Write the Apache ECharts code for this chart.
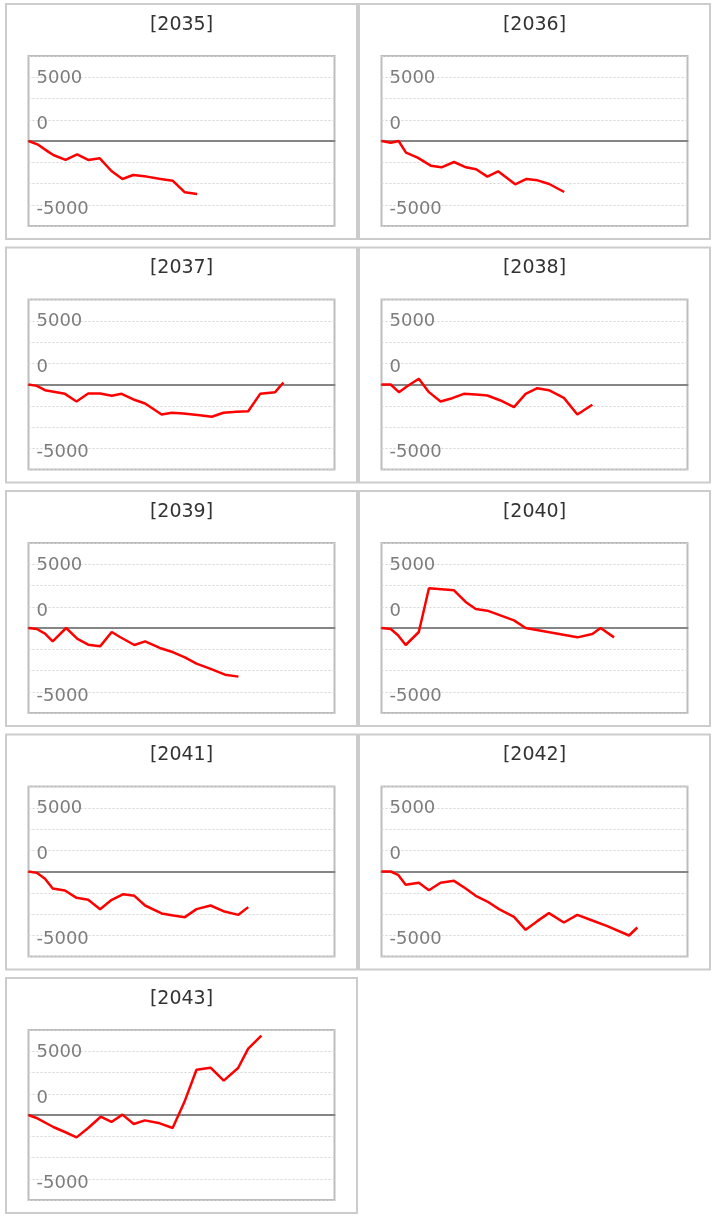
<!DOCTYPE html>
<html>
<head>
<meta charset="utf-8">
<script src="https://cdn.jsdelivr.net/npm/echarts@6/dist/echarts.min.js"></script>
<style>
html,body{margin:0;padding:0;background:#fff;}
#chart{width:714px;height:1218px;}
</style>
</head>
<body>
<div id="chart"></div>
<script>
// Panel titles
const years = ['2035','2036','2037','2038','2039','2040','2041','2042','2043'];

// Tick labels as shown on the y axis
const yTickValues = [7500, 2500, -7500];
const yTickLabels = ['5000', '0', '-5000'];

// Series data: [x position, value]
const s2035 = [[0,0],[2.9,-390],[6.4,-1250],[8.1,-1650],[12.1,-2230],[15.9,-1570],[19.5,-2230],[23.3,-2040],[27.1,-3530],[30.7,-4470],[34.2,-4000],[38.6,-4190],[42.7,-4430],[47.1,-4670],[51.1,-6040],[55.1,-6230]];
const s2036 = [[0,0],[3.0,-200],[5.6,0],[8.0,-1370],[11.8,-1960],[16.1,-2900],[19.6,-3100],[23.7,-2470],[27.6,-3100],[30.9,-3330],[34.6,-4190],[38.1,-3570],[43.7,-5100],[47.4,-4470],[51.0,-4630],[54.8,-5060],[59.7,-6000]];
const s2037 = [[0,0],[2.7,-160],[5.4,-670],[11.9,-1100],[15.7,-2000],[19.5,-1060],[23.4,-1060],[27.2,-1330],[30.4,-1100],[34.3,-1760],[38.1,-2230],[43.5,-3530],[46.8,-3330],[50.6,-3410],[56.0,-3610],[59.9,-3800],[63.7,-3330],[68.0,-3210],[71.8,-3140],[75.7,-1100],[80.6,-900],[83.3,240]];
const s2038 = [[0,0],[3.0,0],[5.7,-900],[8.4,-200],[12.2,670],[15.5,-900],[19.3,-2000],[23.1,-1610],[26.9,-1100],[30.8,-1180],[34.6,-1290],[38.9,-1880],[43.3,-2670],[47.1,-1100],[50.9,-430],[54.7,-670],[59.6,-1570],[64.0,-3530],[68.9,-2390]];
const s2039 = [[0,0],[2.7,-120],[5.4,-670],[7.9,-1570],[12.3,0],[16.0,-1290],[19.5,-1960],[23.4,-2160],[27.2,-470],[29.9,-1060],[34.6,-2000],[38.1,-1570],[42.9,-2350],[47.3,-2860],[51.1,-3450],[54.9,-4190],[59.3,-4780],[64.2,-5490],[68.6,-5720]];
const s2040 = [[0,0],[3.0,-120],[5.4,-860],[7.9,-2000],[12.2,-470],[15.5,4670],[23.7,4430],[27.5,3060],[30.8,2230],[34.6,2040],[43.3,900],[47.1,0],[64.0,-1100],[68.9,-710],[71.6,0],[76.0,-1100]];
const s2041 = [[0,0],[2.7,-160],[5.4,-860],[7.9,-2000],[11.9,-2230],[15.7,-3100],[19.5,-3330],[23.4,-4430],[27.2,-3330],[31.0,-2670],[34.6,-2860],[38.1,-4000],[43.5,-4940],[47.3,-5170],[51.1,-5370],[54.9,-4430],[59.5,-4000],[63.7,-4670],[68.6,-5100],[71.8,-4190]];
const s2042 = [[0,0],[3.0,0],[5.4,-390],[7.9,-1570],[12.2,-1330],[15.5,-2200],[19.3,-1330],[23.7,-1100],[27.5,-2000],[30.8,-2860],[34.6,-3530],[38.4,-4430],[43.3,-5330],[47.1,-6860],[50.9,-5840],[54.7,-4900],[59.6,-6000],[64.0,-5100],[68.9,-5760],[73.8,-6430],[80.9,-7530],[83.6,-6590]];
const s2043 = [[0,0],[2.6,-350],[8.1,-1410],[11.9,-2000],[15.7,-2630],[19.5,-1530],[23.6,-200],[27.1,-820],[30.7,40],[34.4,-1060],[38.0,-630],[42.9,-980],[47.1,-1530],[50.9,1490],[54.9,5330],[59.5,5570],[63.8,4040],[68.5,5530],[71.8,7800],[76.1,9330]];

const seriesData = [s2035,s2036,s2037,s2038,s2039,s2040,s2041,s2042,s2043];

const FONT = 'DejaVu Sans, Verdana, sans-serif';
const chart = echarts.init(document.getElementById('chart'), null, {renderer:'canvas'});

const grids = [], xAxes = [], yAxes = [], series = [], graphics = [];
const panelLeft = [6, 359];
const panelW = 351, panelH = 235, rowPitch = 243.5, firstTop = 4;

years.forEach((yr, i) => {
  const col = i % 2, row = Math.floor(i / 2);
  const px = panelLeft[col];
  const py = firstTop + row * rowPitch;
  graphics.push({
    type:'rect', silent:true,
    shape:{x:px, y:py, width:panelW, height:panelH},
    style:{fill:'none', stroke:'#cccccc', lineWidth:2}
  });
  graphics.push({
    type:'text', silent:true,
    x: px + panelW/2, y: py + 21,
    style:{text:'[' + yr + ']', fill:'#333333', font:'19px ' + FONT, textAlign:'center', textVerticalAlign:'middle'}
  });
  grids.push({
    show:true, left: px + 22.5, top: py + 52, width: 306, height: 170,
    borderColor:'#bdbdbd', borderWidth:2, backgroundColor:'transparent', containLabel:false
  });
  xAxes.push({
    type:'value', gridIndex:i, min:0, max:100,
    axisLine:{show:true, onZero:true, lineStyle:{color:'#858585', width:2}},
    axisTick:{show:false}, axisLabel:{show:false}, splitLine:{show:false}
  });
  yAxes.push({
    type:'value', gridIndex:i, min:-10000, max:10000, interval:2500,
    axisLine:{show:false}, axisTick:{show:false},
    splitLine:{show:true, lineStyle:{color:'#d4d4d4', width:1, type:[2,2]}},
    axisLabel:{
      inside:true, margin:8,
      formatter: function(v){
        const k = yTickValues.indexOf(v);
        if (k < 0) return '';
        return '{' + (k === 0 ? 'a' : 'b') + '|' + yTickLabels[k] + '}';
      },
      rich:{
        a:{fontSize:18, fontFamily:FONT, color:'#7d7d7d', padding:[2,0,0,0]},
        b:{fontSize:18, fontFamily:FONT, color:'#7d7d7d', padding:[9,0,0,0]}
      }
    }
  });
  series.push({
    type:'line', xAxisIndex:i, yAxisIndex:i, data: seriesData[i],
    showSymbol:false, symbol:'none', z:5,
    lineStyle:{color:'#ff0000', width:2.5}
  });
});

chart.setOption({
  animation:false,
  backgroundColor:'#ffffff',
  grid:grids, xAxis:xAxes, yAxis:yAxes, series:series, graphic:graphics
});
</script>
</body>
</html>
